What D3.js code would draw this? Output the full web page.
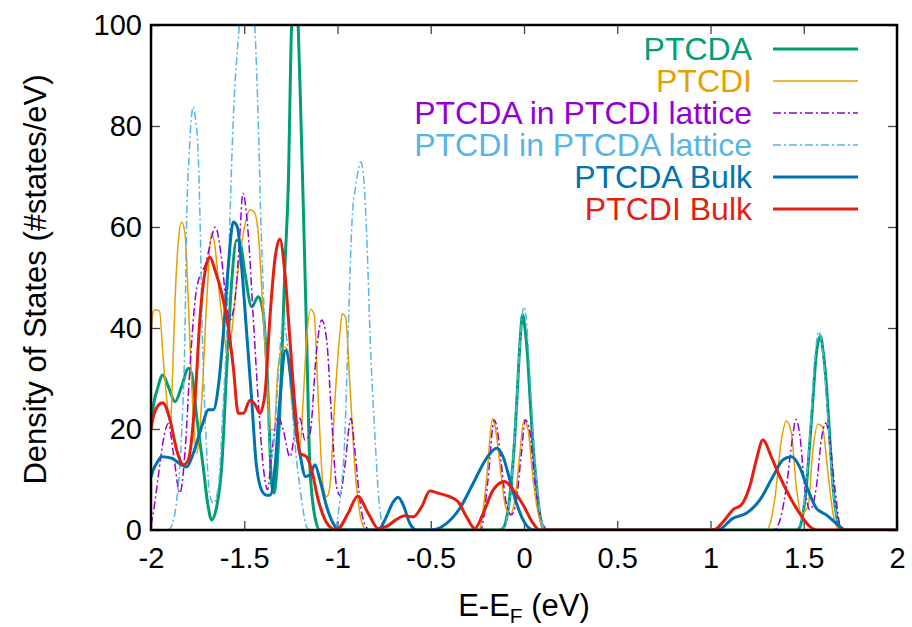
<!DOCTYPE html>
<html>
<head>
<meta charset="utf-8">
<script src="https://cdn.jsdelivr.net/npm/d3@7"></script>
<style>
  html, body { margin: 0; padding: 0; background: #fff; }
  svg { display: block; font-family: "Liberation Sans", Arial, sans-serif; }
</style>
</head>
<body>
<svg id="chart" width="912" height="627"></svg>
<script>
// ---------------- DATA ----------------
const seriesNames = ["PTCDA", "PTCDI", "PTCDA in PTCDI lattice", "PTCDI in PTCDA lattice", "PTCDA Bulk", "PTCDI Bulk"];
const xTicks = [-2, -1.5, -1, -0.5, 0, 0.5, 1, 1.5, 2];
const xTickLabels = ["-2", "-1.5", "-1", "-0.5", "0", "0.5", "1", "1.5", "2"];
const yTicks = [0, 20, 40, 60, 80, 100];
const yTickLabels = ["0", "20", "40", "60", "80", "100"];

// [E - E_F (eV), DOS (#states/eV)]
const ptcda = [[-2,20],[-1.988,24.4],[-1.965,28],[-1.937,30.7],[-1.907,28.4],[-1.871,25.4],[-1.836,28.4],[-1.80,32],[-1.782,31],[-1.755,22.4],[-1.72,12.5],[-1.695,5],[-1.675,2],[-1.648,4.6],[-1.621,12.5],[-1.594,32],[-1.568,48.8],[-1.541,57.4],[-1.523,57],[-1.496,50.8],[-1.46,44.2],[-1.425,46.2],[-1.398,42.9],[-1.371,25.7],[-1.353,9],[-1.34,7.3],[-1.325,12],[-1.30,32],[-1.282,52],[-1.264,68],[-1.246,100],[-1.228,108],[-1.211,100],[-1.195,80],[-1.184,65],[-1.166,39],[-1.148,12.5],[-1.121,2.6],[-1.094,0],[-0.13,0],[-0.112,0.3],[-0.09,3],[-0.067,9.9],[-0.05,18],[-0.035,28],[-0.02,38],[-0.008,42.6],[0.005,40],[0.02,34],[0.031,27],[0.05,16],[0.067,9],[0.085,3],[0.102,0.5],[0.12,0],[1.46,0],[1.478,0.5],[1.495,3],[1.514,8.6],[1.53,16],[1.549,25.7],[1.565,34],[1.589,38.4],[1.605,35],[1.621,29],[1.64,18],[1.657,8.6],[1.675,3],[1.692,0.5],[1.71,0],[2,0]];

const ptcdi = [[-2,38],[-1.99,43],[-1.979,43.6],[-1.955,43.4],[-1.934,33.7],[-1.907,23.1],[-1.895,21],[-1.885,30],[-1.871,45.5],[-1.853,57.4],[-1.836,61],[-1.818,58.8],[-1.80,45.5],[-1.782,29],[-1.755,15.2],[-1.728,25.7],[-1.701,45.5],[-1.675,58.8],[-1.657,56.1],[-1.63,45.5],[-1.609,39],[-1.591,35],[-1.568,39],[-1.541,48.8],[-1.505,58.8],[-1.469,63.4],[-1.443,62.7],[-1.425,58.8],[-1.398,42.2],[-1.371,25.7],[-1.359,19.9],[-1.341,19.9],[-1.318,32.3],[-1.291,36.3],[-1.273,36],[-1.246,25.7],[-1.219,17.8],[-1.201,16.5],[-1.184,25.7],[-1.166,37.6],[-1.143,43.7],[-1.125,42.6],[-1.103,25.7],[-1.077,8.6],[-1.058,6.6],[-1.041,8.6],[-1.014,25.7],[-0.987,39],[-0.975,42.8],[-0.957,42.2],[-0.934,29],[-0.907,12.5],[-0.88,3.3],[-0.853,0.3],[-0.83,0],[-0.25,0],[-0.237,0.3],[-0.201,9.9],[-0.169,22.1],[-0.155,20.5],[-0.13,13.2],[-0.103,5.3],[-0.076,3],[-0.049,5.9],[-0.022,15.2],[0.0,21.9],[0.022,19.8],[0.049,9.9],[0.085,2],[0.12,0],[1.29,0],[1.308,0.3],[1.344,5.9],[1.38,17.8],[1.407,21.6],[1.434,19.1],[1.46,8.6],[1.487,3.3],[1.523,4.6],[1.549,15.8],[1.576,21],[1.6,20.4],[1.63,11.2],[1.657,3.3],[1.684,0.3],[1.70,0],[2,0]];

const ptcdaInPtcdi = [[-2,1],[-1.988,3.3],[-1.961,10.6],[-1.934,17.8],[-1.907,21.1],[-1.88,15.2],[-1.845,7.3],[-1.818,15.2],[-1.791,32.3],[-1.755,47.9],[-1.701,53.5],[-1.675,58],[-1.655,60],[-1.621,53.5],[-1.594,44.2],[-1.577,41.6],[-1.55,45.5],[-1.523,58.8],[-1.508,66.7],[-1.479,58.8],[-1.452,42.2],[-1.425,25.7],[-1.398,12.5],[-1.375,8],[-1.353,15.2],[-1.318,22.4],[-1.291,19.8],[-1.255,14.5],[-1.228,19.1],[-1.201,22.1],[-1.175,17.8],[-1.148,19.1],[-1.112,35.6],[-1.085,41.6],[-1.058,37.6],[-1.032,22.4],[-1.005,8.6],[-0.987,6.9],[-0.961,12.5],[-0.928,22.1],[-0.907,15.8],[-0.88,5.9],[-0.853,1],[-0.825,0],[-0.24,0],[-0.229,0.3],[-0.193,9.9],[-0.16,21.8],[-0.146,20.5],[-0.122,13.2],[-0.095,5.3],[-0.068,3],[-0.041,5.9],[-0.014,15.2],[0.008,21.8],[0.03,19.8],[0.057,9.9],[0.093,2],[0.128,0],[1.34,0],[1.353,0.3],[1.38,3],[1.407,8.6],[1.443,19.1],[1.457,21.9],[1.478,19.1],[1.505,8.6],[1.532,4],[1.568,8.6],[1.594,17.8],[1.618,21.2],[1.639,17.8],[1.666,8.6],[1.70,0.3],[1.72,0],[2,0]];

const ptcdiInPtcda = [[-2,0],[-1.92,0],[-1.898,0.3],[-1.862,5.9],[-1.836,19.1],[-1.818,39],[-1.809,61.4],[-1.795,74.6],[-1.785,81],[-1.773,83.8],[-1.76,81],[-1.747,74.6],[-1.737,61.4],[-1.725,39],[-1.706,19.1],[-1.686,7.3],[-1.666,5.3],[-1.639,8.6],[-1.612,25.7],[-1.594,39],[-1.577,61.4],[-1.559,81.2],[-1.527,99.7],[-1.488,118],[-1.443,99.7],[-1.425,81.2],[-1.411,61.4],[-1.39,40],[-1.37,20],[-1.355,14],[-1.335,20],[-1.31,35],[-1.29,42],[-1.27,37],[-1.245,25],[-1.22,14],[-1.2,8],[-1.18,3],[-1.165,0.5],[-1.14,0],[-1.03,0],[-1.014,0.3],[-0.987,5.9],[-0.96,19.1],[-0.943,39],[-0.921,62],[-0.903,68],[-0.89,71],[-0.876,72.9],[-0.86,70],[-0.853,66],[-0.84,55],[-0.826,39],[-0.8,19.1],[-0.773,4],[-0.746,0],[-0.12,0],[-0.1,1],[-0.08,5],[-0.06,13],[-0.04,25],[-0.02,38],[0,44.2],[0.02,38],[0.04,25],[0.06,13],[0.08,5],[0.1,1],[0.12,0],[1.46,0],[1.48,1],[1.5,5],[1.52,12],[1.54,23],[1.56,34],[1.58,39.3],[1.60,36],[1.62,27],[1.64,16],[1.66,7],[1.68,2],[1.70,0.3],[1.72,0],[2,0]];

const ptcdaBulk = [[-2,10.5],[-1.988,11.9],[-1.965,13.5],[-1.943,14.5],[-1.889,14.2],[-1.836,12.9],[-1.809,12.5],[-1.773,15.2],[-1.72,21.4],[-1.693,23.8],[-1.666,23.8],[-1.639,28.4],[-1.612,39],[-1.586,52.1],[-1.559,61],[-1.537,60],[-1.514,52.1],[-1.487,39],[-1.46,25.7],[-1.434,12.5],[-1.398,7.3],[-1.38,6.9],[-1.362,6.9],[-1.335,12.5],[-1.309,25.7],[-1.278,35.6],[-1.246,29],[-1.219,19.1],[-1.192,13.2],[-1.175,10.6],[-1.148,10.9],[-1.121,12.9],[-1.094,9.9],[-1.058,4.6],[-1.023,1.3],[-0.996,0],[-0.78,0],[-0.746,2],[-0.70,5.6],[-0.675,6.5],[-0.648,5],[-0.612,1.3],[-0.576,0],[-0.496,0],[-0.415,1.3],[-0.344,4.3],[-0.273,9.2],[-0.201,14.2],[-0.147,16.2],[-0.112,14.5],[-0.076,9.9],[-0.04,5.3],[-0.005,2],[0.031,0.3],[0.06,0],[1.04,0],[1.049,0.1],[1.12,2.3],[1.192,3.3],[1.264,5.9],[1.335,10.6],[1.389,13.9],[1.434,14.5],[1.478,12.5],[1.523,7.9],[1.568,4.3],[1.621,3],[1.675,1.3],[1.728,0],[2,0]];

const ptcdiBulk = [[-2,20],[-1.988,22.4],[-1.965,24.5],[-1.937,25.2],[-1.898,21.8],[-1.862,15.8],[-1.827,12.9],[-1.80,13.9],[-1.764,25.7],[-1.737,42.2],[-1.71,51.2],[-1.684,54],[-1.657,51.5],[-1.621,46.9],[-1.586,40.3],[-1.559,32.3],[-1.532,23.1],[-1.505,23.1],[-1.469,25.7],[-1.441,24.8],[-1.416,23.1],[-1.389,27],[-1.362,42.2],[-1.336,53.5],[-1.309,57.6],[-1.282,50.8],[-1.255,37.6],[-1.228,24.4],[-1.201,15.2],[-1.166,14.5],[-1.139,11.9],[-1.103,5.9],[-1.05,1],[-1.005,0],[-0.943,3.3],[-0.892,6.7],[-0.835,3.3],[-0.782,0.3],[-0.737,0.7],[-0.683,2.1],[-0.639,2.8],[-0.594,2.6],[-0.549,4.6],[-0.505,7.7],[-0.46,7.3],[-0.398,6.6],[-0.353,5.6],[-0.308,2.6],[-0.264,0.3],[-0.219,3.3],[-0.166,7.9],[-0.103,9.6],[-0.058,7.9],[-0.005,5],[0.049,1.3],[0.085,0],[1.0,0],[1.022,0.1],[1.076,2],[1.12,4],[1.166,5],[1.21,8.6],[1.246,13.9],[1.281,17.8],[1.326,14.5],[1.371,10.6],[1.425,6.6],[1.478,3.3],[1.532,0.7],[1.57,0],[2,0]];

const seriesData = [ptcda, ptcdi, ptcdaInPtcdi, ptcdiInPtcda, ptcdaBulk, ptcdiBulk];

// ---------------- STYLE ----------------
const styles = [
  { color: "#009e73", width: 3,   dash: null },
  { color: "#e69f00", width: 1.5, dash: null },
  { color: "#9400d3", width: 1.5, dash: "8,3,2,3" },
  { color: "#56b4e9", width: 1.5, dash: "8,3,2,3" },
  { color: "#0072b2", width: 3,   dash: null },
  { color: "#e51e10", width: 3,   dash: null }
];

const W = 912, H = 627;
const m = { left: 151, right: 15, top: 25, bottom: 97 };
const svg = d3.select("#chart");

const x = d3.scaleLinear().domain([-2, 2]).range([m.left, W - m.right]);
const y = d3.scaleLinear().domain([0, 100]).range([H - m.bottom, m.top]);

svg.append("defs").append("clipPath").attr("id", "plotclip")
  .append("rect")
  .attr("x", x(-2)).attr("y", y(100))
  .attr("width", x(2) - x(-2)).attr("height", y(0) - y(100));

// axes (ticks inward, mirrored)
const fontSize = 29;
const titleSize = 31;
const axB = svg.append("g").attr("transform", `translate(0,${y(0)})`)
  .call(d3.axisBottom(x).tickValues(xTicks).tickSize(-9).tickPadding(17)
    .tickFormat((d, i) => xTickLabels[i]));
const axT = svg.append("g").attr("transform", `translate(0,${y(100)})`)
  .call(d3.axisTop(x).tickValues(xTicks).tickSize(-9).tickFormat(""));
const axL = svg.append("g").attr("transform", `translate(${x(-2)},0)`)
  .call(d3.axisLeft(y).tickValues(yTicks).tickSize(-9).tickPadding(9)
    .tickFormat((d, i) => yTickLabels[i]));
const axR = svg.append("g").attr("transform", `translate(${x(2)},0)`)
  .call(d3.axisRight(y).tickValues(yTicks).tickSize(-9).tickFormat(""));

[axB, axT, axL, axR].forEach(g => {
  g.select(".domain").remove();
  g.selectAll(".tick line").attr("stroke", "#444").attr("stroke-width", 1.3);
  g.selectAll(".tick text").attr("font-size", fontSize).attr("fill", "#000")
    .attr("font-family", '"Liberation Sans", Arial, sans-serif');
});

// curves
const line = d3.line().x(d => x(d[0])).y(d => y(d[1])).curve(d3.curveMonotoneX);
const plot = svg.append("g").attr("clip-path", "url(#plotclip)");
seriesData.forEach((data, i) => {
  const st = styles[i];
  plot.append("path")
    .datum(data)
    .attr("d", line)
    .attr("fill", "none")
    .attr("stroke", st.color)
    .attr("stroke-width", st.width)
    .attr("stroke-linejoin", "round")
    .attr("stroke-dasharray", st.dash);
});

// border
svg.append("rect")
  .attr("x", x(-2)).attr("y", y(100))
  .attr("width", x(2) - x(-2)).attr("height", y(0) - y(100))
  .attr("fill", "none").attr("stroke", "#000").attr("stroke-width", 2.5);

// legend
const legend = svg.append("g");
seriesNames.forEach((name, i) => {
  const st = styles[i];
  const ly = 49 + i * 32;
  legend.append("text")
    .attr("x", 752).attr("y", ly + 11)
    .attr("text-anchor", "end")
    .attr("font-size", 32)
    .attr("fill", st.color)
    .text(name);
  legend.append("line")
    .attr("x1", 773).attr("x2", 858).attr("y1", ly).attr("y2", ly)
    .attr("stroke", st.color).attr("stroke-width", st.width)
    .attr("stroke-dasharray", st.dash);
});

// axis titles
svg.append("text")
  .attr("transform", `translate(46,${(y(0) + y(100)) / 2 + 2}) rotate(-90)`)
  .attr("text-anchor", "middle")
  .attr("font-size", titleSize)
  .attr("fill", "#000")
  .text("Density of States (#states/eV)");

const xl = svg.append("text")
  .attr("x", (x(-2) + x(2)) / 2).attr("y", 616)
  .attr("text-anchor", "middle")
  .attr("font-size", titleSize)
  .attr("fill", "#000");
xl.append("tspan").text("E-E");
xl.append("tspan").attr("font-size", 21).attr("dy", 7).text("F");
xl.append("tspan").attr("dy", -7).text(" (eV)");
</script>
</body>
</html>
